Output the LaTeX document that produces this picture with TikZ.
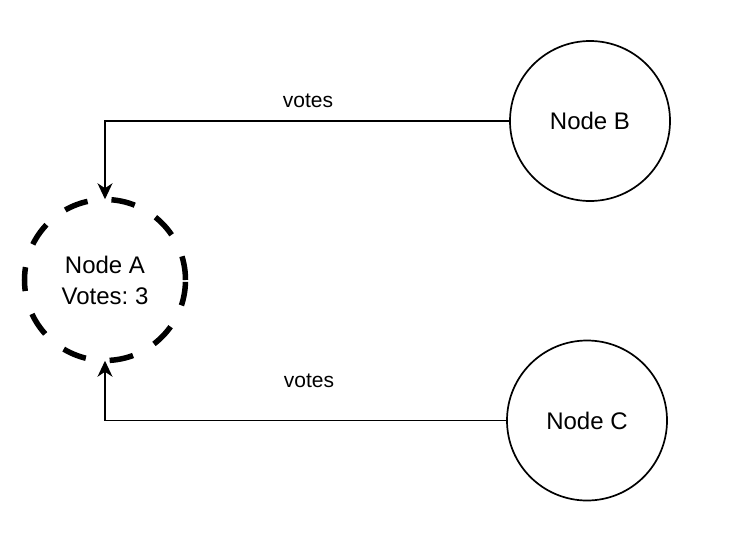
\documentclass[tikz,border=0pt]{standalone}
\usepackage{fontspec}
\setmainfont{Liberation Sans}
\usetikzlibrary{arrows.meta}
\frenchspacing
\begin{document}
\begin{tikzpicture}[x=1pt,y=-1pt,
  vnode/.style={circle, draw, line width=1.7pt, minimum size=160pt, inner sep=0pt,
    font=\fontsize{24}{31}\selectfont, align=center},
  leader/.style={vnode, line width=5.5pt, minimum size=161pt, dash pattern=on 24pt off 24pt},
  conn/.style={draw, line width=1.7pt, -{Stealth[length=16pt, width=15pt, inset=5pt]}, shorten >=-2.5pt},
  lbl/.style={font=\fontsize{21}{25}\selectfont, inner sep=0pt}
]
\useasboundingbox (0,0) rectangle (738,546);
\node[leader] (A) at (105,280) {Node A\\Votes: 3};
\node[vnode] (B) at (590,121) {Node B};
\node[vnode] (C) at (587,420.5) {Node C};
\draw[conn] (B.west) -| (A.north);
\draw[conn] (C.west) -| (A.south);
\node[lbl] (v1) at (308,101) {votes};
\node[lbl] (v2) at (309,381) {votes};
\end{tikzpicture}
\end{document}
